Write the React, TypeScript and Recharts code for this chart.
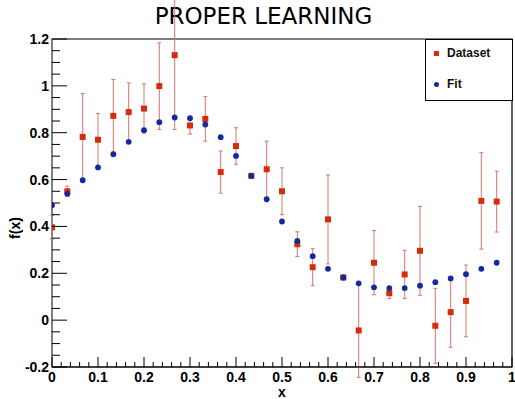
import React from "react";
import { ComposedChart, Scatter, XAxis, YAxis, ErrorBar, ReferenceArea } from "recharts";

const xValues = [
  0, 0.0333, 0.0667, 0.1, 0.1333, 0.1667, 0.2, 0.2333, 0.2667, 0.3,
  0.3333, 0.3667, 0.4, 0.4333, 0.4667, 0.5, 0.5333, 0.5667, 0.6, 0.6333,
  0.6667, 0.7, 0.7333, 0.7667, 0.8, 0.8333, 0.8667, 0.9, 0.9333, 0.9667,
];

const datasetValues = [
  0.396, 0.55, 0.782, 0.77, 0.872, 0.888, 0.903, 0.999, 1.131, 0.831,
  0.859, 0.632, 0.743, 0.616, 0.644, 0.55, 0.324, 0.226, 0.43, 0.182,
  -0.044, 0.245, 0.115, 0.195, 0.296, -0.024, 0.034, 0.082, 0.509, 0.506,
];

const datasetErrors = [
  0.05, 0.022, 0.185, 0.112, 0.155, 0.125, 0.105, 0.185, 0.317, 0.037,
  0.095, 0.09, 0.078, 0.01, 0.12, 0.1, 0.053, 0.079, 0.19, 0.01,
  0.2, 0.137, 0.023, 0.103, 0.19, 0.16, 0.15, 0.153, 0.206, 0.13,
];

const fitValues = [
  0.49, 0.54, 0.597, 0.652, 0.708, 0.761, 0.811, 0.845, 0.865, 0.862,
  0.835, 0.781, 0.701, 0.616, 0.516, 0.421, 0.338, 0.273, 0.219, 0.182,
  0.157, 0.14, 0.137, 0.137, 0.147, 0.162, 0.178, 0.196, 0.219, 0.245,
];

const xMajorTicks = [0, 0.1, 0.2, 0.3, 0.4, 0.5, 0.6, 0.7, 0.8, 0.9, 1];
const yMajorTicks = [-0.2, 0, 0.2, 0.4, 0.6, 0.8, 1, 1.2];

const RED = "#d42c0c";
const BLUE = "#1428a0";
const BAR = "#d6766c";
const FONT = "Liberation Sans, Arial, sans-serif";

const dataset = xValues.map((x, i) => ({ x, y: datasetValues[i], err: datasetErrors[i] }));
const fit = xValues.map((x, i) => ({ x, y: fitValues[i] }));

// minor ticks: 5 sub-divisions on x, 4 on y
const xTicks: number[] = [];
for (let i = 0; i < xMajorTicks.length - 1; i++) {
  for (let k = 0; k < 5; k++) xTicks.push(+(xMajorTicks[i] + k * 0.02).toFixed(2));
}
xTicks.push(1);
const yTicks: number[] = [];
for (let i = 0; i < yMajorTicks.length - 1; i++) {
  for (let k = 0; k < 4; k++) yTicks.push(+(yMajorTicks[i] + k * 0.05).toFixed(2));
}
yTicks.push(1.2);

const isMajor = (v: number, list: number[]) => list.some((m) => Math.abs(m - v) < 1e-6);
const fmt = (v: number) => String(+v.toFixed(1));

const XTick = ({ x, y, payload }: any) => {
  const major = isMajor(payload.value, xMajorTicks);
  return (
    <g>
      <line x1={x} x2={x} y1={y} y2={y - (major ? 10 : 5)} stroke="#000" />
      {major && (
        <text x={x} y={y + 15} textAnchor="middle" fontSize={14} fontWeight="bold" fill="#000" fontFamily={FONT}>
          {fmt(payload.value)}
        </text>
      )}
    </g>
  );
};

const YTick = ({ x, y, payload }: any) => {
  const major = isMajor(payload.value, yMajorTicks);
  return (
    <g>
      <line x1={x} x2={x + (major ? 15 : 8)} y1={y} y2={y} stroke="#000" />
      {major && (
        <text x={x - 3} y={y + 5} textAnchor="end" fontSize={14} fontWeight="bold" fill="#000" fontFamily={FONT}>
          {fmt(payload.value)}
        </text>
      )}
    </g>
  );
};

const SquareMark = ({ cx, cy }: any) => <rect x={cx - 3} y={cy - 3} width={6} height={6} fill={RED} />;
const DotMark = ({ cx, cy }: any) => <circle cx={cx} cy={cy} r={2.9} fill={BLUE} />;

const LegendBox = () => (
  <div style={{ position: "absolute", left: 425, top: 39, width: 86, height: 60, border: "1px solid #000",
    background: "#fff", fontFamily: FONT, fontWeight: "bold", fontSize: 12, color: "#111" }}>
    <div style={{ position: "absolute", left: 8, top: 11, width: 5, height: 5, background: RED }} />
    <div style={{ position: "absolute", left: 21, top: 6 }}>Dataset</div>
    <div style={{ position: "absolute", left: 8, top: 42, width: 5, height: 5, borderRadius: 3, background: BLUE }} />
    <div style={{ position: "absolute", left: 21, top: 37 }}>Fit</div>
  </div>
);

export default function App() {
  return (
    <div style={{ position: "absolute", left: 0, top: 0, width: 515, height: 399, background: "#fff", overflow: "hidden" }}>
      <div style={{ position: "absolute", left: 0, width: 527, top: 3, textAlign: "center",
        fontFamily: "DejaVu Sans, sans-serif", fontSize: 23, color: "#000" }}>
        PROPER LEARNING
      </div>
      <div style={{ position: "absolute", left: 15, top: 228, transform: "translate(-50%, -50%) rotate(-90deg)",
        fontFamily: FONT, fontWeight: "bold", fontSize: 14 }}>
        f(x)
      </div>
      <div style={{ position: "absolute", left: 282, top: 386, lineHeight: "12px", transform: "translateX(-50%)",
        fontFamily: FONT, fontWeight: "bold", fontSize: 14 }}>
        x
      </div>
      <ComposedChart width={515} height={399} margin={{ top: 39, right: 3, left: 0, bottom: 0 }}
        style={{ position: "absolute", left: 0, top: 0 }}>
        <ReferenceArea x1={0} x2={1} y1={-0.2} y2={1.2} fill="none" stroke="#000" strokeWidth={1.2} />
        <XAxis type="number" dataKey="x" domain={[0, 1]} ticks={xTicks} interval={0} allowDataOverflow
          height={32} tickSize={0} tickMargin={0} tickLine={false} axisLine={{ stroke: "#000" }} tick={<XTick />} />
        <YAxis type="number" dataKey="y" domain={[-0.2, 1.2]} ticks={yTicks} interval={0} allowDataOverflow
          width={52} tickSize={0} tickMargin={0} tickLine={false} axisLine={{ stroke: "#999" }} tick={<YTick />} />
        <Scatter name="Dataset" data={dataset} shape={<SquareMark />} fill={RED} isAnimationActive={false}>
          <ErrorBar dataKey="err" direction="y" width={2} stroke={BAR} strokeWidth={1} />
        </Scatter>
        <Scatter name="Fit" data={fit} shape={<DotMark />} fill={BLUE} isAnimationActive={false} />
      </ComposedChart>
      <LegendBox />
    </div>
  );
}
